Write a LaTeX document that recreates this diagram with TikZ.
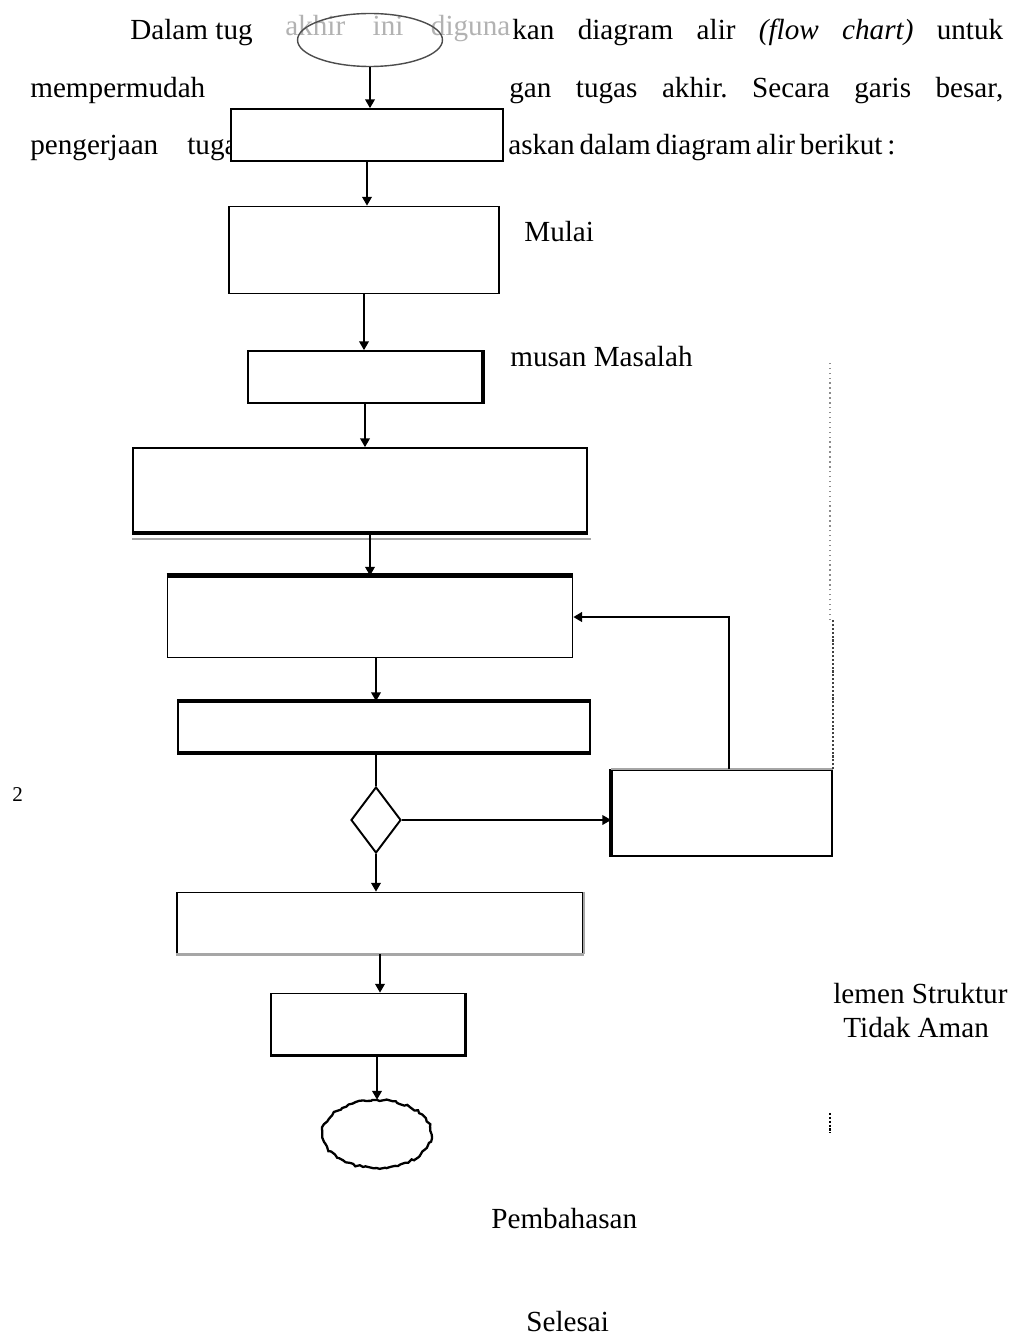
\documentclass[tikz,border=0pt]{standalone}
\usepackage{fontspec}
\setmainfont{Liberation Serif}
\usetikzlibrary{shapes.geometric,arrows.meta,decorations.pathmorphing}

\tikzset{
  txt/.style={anchor=base west, inner sep=0pt, font=\fontsize{16.6}{20}\selectfont},
  box/.style={draw, fill=white, line width=1pt, inner sep=0pt},
  terminal/.style={ellipse, draw=black!70, line width=0.8pt, inner sep=0pt},
  decision/.style={diamond, draw, line width=1.1pt, inner sep=0pt, minimum width=1cm, minimum height=1.32cm},
  flow/.style={-{Triangle[width=5.5pt,length=5pt]}, line width=0.9pt},
  heavy/.style={line width=2.6pt},
  faded/.style={draw=black!35, line width=1.4pt},
}

\begin{document}
\frenchspacing
\begin{tikzpicture}[x=0.02cm, y=-0.02cm]
    \useasboundingbox (0,0) rectangle (1023,1335);

    % teks paragraf
    \node[txt] (p1a) at (130,40) {Dalam tug};
    \node[txt, text=black!30] (p1b) at (285,36) {\makebox[4.5cm][s]{akhir ini diguna}};
    \node[txt] (p1c) at (512,40) {\makebox[9.82cm][s]{kan diagram alir \textit{(flow chart)} untuk}};
    \node[txt] (p2a) at (30,98) {mempermudah};
    \node[txt] (p2b) at (509,98) {\makebox[9.88cm][s]{gan tugas akhir. Secara garis besar,}};
    \node[txt] (p3a) at (30,154) {pengerjaan};
    \node[txt] (p3b) at (187,154) {tugas};
    \node[txt] (p3c) at (508,154) {\makebox[7.6cm][s]{askan dalam diagram alir berikut :}};

    % label
    \node[txt] (lmulai) at (524,241) {Mulai};
    \node[txt] (lmasalah) at (510,366) {musan Masalah};
    \node[txt, font=\fontsize{12}{14}\selectfont] (lhal) at (12,801) {2};
    \node[txt] (lelemen) at (833,1003) {lemen Struktur};
    \node[txt] (laman) at (843,1037) {Tidak Aman};
    \node[txt] (lbahas) at (491,1228) {Pembahasan};
    \node[txt] (lselesai) at (526,1331) {Selesai};

    % bagan alir
    \node[terminal, minimum width=2.9cm, minimum height=1.06cm] (start) at (370,40) {};
    \node[box, minimum width=5.44cm, minimum height=1.04cm] (r1) at (367,135) {};
    \node[box, minimum width=5.4cm, minimum height=1.74cm] (r2) at (364,250) {};
    \node[box, minimum width=4.68cm, minimum height=1.04cm] (r3) at (365,377) {};
    \node[box, minimum width=9.08cm, minimum height=1.68cm] (r4) at (360,490) {};
    \node[box, minimum width=8.1cm, minimum height=1.62cm] (r5) at (370,617) {};
    \node[box, minimum width=8.24cm, minimum height=1cm] (r6) at (384,727) {};
    \node[decision] (cek) at (376,820) {};
    \node[box, minimum width=4.4cm, minimum height=1.72cm] (r7) at (722,813) {};
    \node[box, minimum width=8.12cm, minimum height=1.22cm] (r8) at (380,923) {};
    \node[box, minimum width=3.88cm, minimum height=1.22cm] (r9) at (368,1024) {};
    \node[ellipse, inner sep=0pt, minimum width=2.18cm, minimum height=1.36cm] (stop) at (377,1134) {};
    \draw[line width=1.3pt, decorate, decoration={random steps, segment length=2pt, amplitude=0.7pt}]
        (stop.center) ellipse [x radius=1.09cm, y radius=0.68cm];

    % garis tebal dan pudar hasil pindaian
    \draw[heavy] (r3.north east) -- (r3.south east);
    \draw[heavy] (r4.south west) -- (r4.south east);
    \draw[faded, line width=0.8pt] ([yshift=-0.12cm]r4.south west) -- ([yshift=-0.12cm,xshift=0.06cm]r4.south east);
    \draw[heavy] (r5.north west) -- (r5.north east);
    \draw[heavy] (r6.north west) -- (r6.north east);
    \draw[heavy] (r6.south west) -- (r6.south east);
    \draw[heavy] (r7.north west) -- (r7.south west);
    \draw[faded] (r7.north west) -- (r7.north east);
    \draw[faded] (r8.south west) -- (r8.south east);
    \draw[faded] (r8.north east) -- (r8.south east);
    \draw[heavy, line width=1.8pt] (r9.south west) -- (r9.south east) -- (r9.north east);

    % panah
    \draw[flow] (start.south) -- (start.south |- r1.north);
    \draw[flow] (r1.south) -- (r1.south |- r2.north);
    \draw[flow] (r2.south) -- (r2.south |- r3.north);
    \draw[flow] (r3.south) -- (r3.south |- r4.north);
    \draw[flow] (r5.north |- r4.south) -- (r5.north);
    \draw[flow] (cek.north |- r5.south) -- (cek.north |- r6.north);
    \draw[line width=0.9pt] (cek.north |- r6.south) -- (cek.north);
    \draw[flow] (cek.east) -- (cek.east -| r7.west);
    \draw[flow, line width=1.4pt] ([xshift=0.14cm]r7.north) |- (r5.east);
    \draw[flow] (cek.south) -- (cek.south |- r8.north);
    \draw[flow] (r8.south) -- (r8.south |- r9.north);
    \draw[flow] (stop.north |- r9.south) -- (stop.north);

    % titik-titik pindaian
    \draw[densely dotted, line width=1.2pt, black!75] (r7.north east) -- ++(0,-150);
    \draw[dotted, line width=0.8pt, black!45] (830,620) -- (830,360);
    \draw[densely dotted, line width=1.2pt] (830,1113) -- (830,1133);
\end{tikzpicture}
\end{document}
